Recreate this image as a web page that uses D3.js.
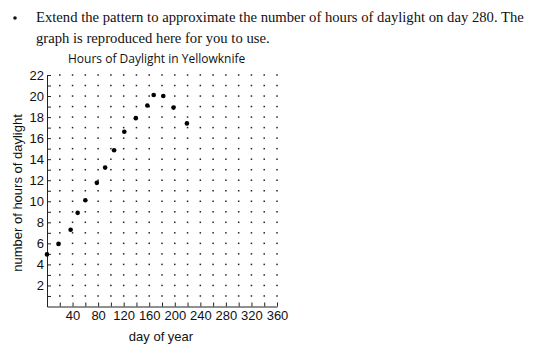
<!DOCTYPE html>
<html>
<head>
<meta charset="utf-8">
<script src="https://cdn.jsdelivr.net/npm/d3@7"></script>
<style>
  body { margin: 0; background: #fff; }
  svg { display: block; }
</style>
</head>
<body>
<svg id="chart" width="536" height="353"></svg>
<script>
// values
const days  = [0, 18, 37, 48, 60, 78, 91, 105, 121, 139, 157, 167, 182, 198, 219];
const hours = [4.95, 5.95, 7.3, 8.9, 10.1, 11.75, 13.2, 14.85, 16.6, 17.9, 19.1, 20.1, 20.0, 18.9, 17.4];
const xTicks = d3.range(20, 361, 20);   // minor ticks every 20 days, labels every 40
const yTicks = d3.range(1, 23);         // minor ticks every hour, labels every 2

const svg = d3.select("#chart");

const plotLeft = 47, plotRight = 277, plotTop = 75, plotBottom = 306.5;

const x = d3.scaleLinear().domain([0, 360]).range([plotLeft, plotRight]);
const y = d3.scaleLinear().domain([0, 22]).range([plotBottom, plotTop]);

// question text, sized so the first line spans the same width as the scan
const serif = "'Liberation Serif', 'DejaVu Serif', serif";
svg.append("circle").attr("cx", 15).attr("cy", 18).attr("r", 1.8).attr("fill", "#111");
const line1 = svg.append("text")
    .attr("x", 36).attr("y", 22)
    .attr("font-family", serif).attr("font-size", 15).attr("fill", "#111")
    .text("Extend the pattern to approximate the number of hours of daylight on day 280. The");
const fs = Math.min(16, 15 * 488 / line1.node().getComputedTextLength());
line1.attr("font-size", fs);
svg.append("text")
    .attr("x", 36).attr("y", 43)
    .attr("font-family", serif).attr("font-size", fs).attr("fill", "#111")
    .text("graph is reproduced here for you to use.");

// chart title
svg.append("text")
    .attr("x", 68).attr("y", 63)
    .attr("font-family", "'Open Sans', 'Noto Sans', sans-serif")
    .attr("font-size", 12).attr("fill", "#111")
    .text("Hours of Daylight in Yellowknife");

// dot grid
const grid = [];
xTicks.forEach(d => yTicks.forEach(h => grid.push([d, h])));
svg.append("g")
    .selectAll("rect")
    .data(grid)
    .join("rect")
    .attr("x", d => x(d[0]) - 0.75)
    .attr("y", d => y(d[1]) - 0.75)
    .attr("width", 1.5)
    .attr("height", 1.5)
    .attr("fill", "#222");

const sans = "'Liberation Sans', Arial, sans-serif";

// horizontal axis
svg.append("g")
    .attr("transform", `translate(0,${plotBottom})`)
    .call(d3.axisBottom(x).tickValues(xTicks).tickSize(-4).tickSizeOuter(0).tickPadding(4)
        .tickFormat(d => d % 40 === 0 ? d : ""))
    .call(g => g.selectAll("text").attr("font-family", sans).attr("font-size", 13).attr("fill", "#111"))
    .call(g => g.selectAll("line, path").attr("stroke", "#222"));

// vertical axis
svg.append("g")
    .attr("transform", `translate(${plotLeft},0)`)
    .call(d3.axisLeft(y).tickValues(yTicks).tickSize(-4).tickSizeOuter(0).tickPadding(3)
        .tickFormat(d => d % 2 === 0 ? d : ""))
    .call(g => g.selectAll("text").attr("font-family", sans).attr("font-size", 13).attr("fill", "#111"))
    .call(g => g.selectAll("line, path").attr("stroke", "#222"));

// data points
svg.append("g")
    .selectAll("circle")
    .data(days.map((d, i) => [d, hours[i]]))
    .join("circle")
    .attr("cx", d => x(d[0]))
    .attr("cy", d => y(d[1]))
    .attr("r", 2.3)
    .attr("fill", "#000");

// axis titles
svg.append("text")
    .attr("transform", "translate(22,193) rotate(-90)")
    .attr("text-anchor", "middle")
    .attr("font-family", sans).attr("font-size", 13).attr("fill", "#111")
    .text("number of hours of daylight");
svg.append("text")
    .attr("x", 161).attr("y", 341)
    .attr("text-anchor", "middle")
    .attr("font-family", sans).attr("font-size", 13).attr("fill", "#111")
    .text("day of year");
</script>
</body>
</html>
